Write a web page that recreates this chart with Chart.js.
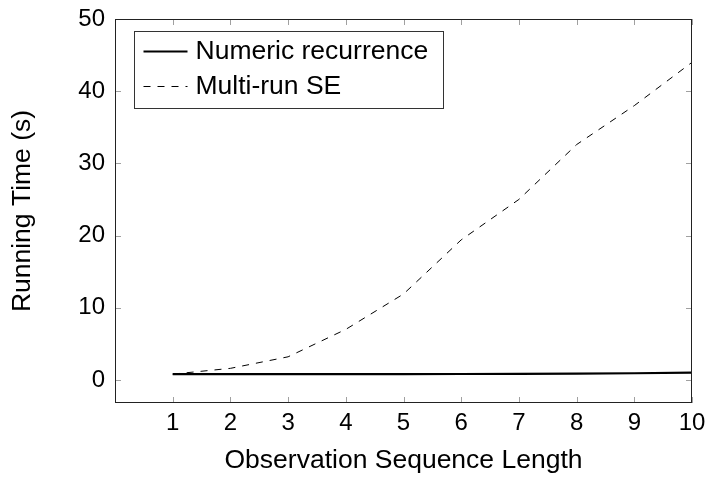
<!DOCTYPE html>
<html>
<head>
<meta charset="utf-8">
<script src="https://cdn.jsdelivr.net/npm/chart.js@4"></script>
<style>
  html, body { margin: 0; padding: 0; background: #fff; }
  #wrap { width: 709px; height: 478px; }
</style>
</head>
<body>
<div id="wrap"><canvas id="runtime"></canvas></div>
<script>
// Values
const seqLength = [1, 2, 3, 4, 5, 6, 7, 8, 9, 10];
const numericRecurrence = [0.8, 0.8, 0.8, 0.8, 0.8, 0.82, 0.84, 0.87, 0.92, 1.0];
const multiRunSE = [0.8, 1.6, 3.2, 7.0, 11.9, 19.4, 25.0, 32.6, 38.0, 44.0];
const xTicks = [1, 2, 3, 4, 5, 6, 7, 8, 9, 10];
const yTicks = [0, 10, 20, 30, 40, 50];

const FONT = 'Liberation Sans, Arial, Helvetica, sans-serif';

// frame, inward ticks and boxed legend like pgfplots
const framePlugin = {
  id: 'frame',
  afterDatasetsDraw(chart) {
    const { ctx, chartArea: a, scales } = chart;
    ctx.save();
    ctx.strokeStyle = '#a0a0a0';
    ctx.lineWidth = 1;
    const len = 6;
    ctx.beginPath();
    xTicks.forEach(v => {
      const px = Math.round(scales.x.getPixelForValue(v)) + 0.5;
      ctx.moveTo(px, a.bottom); ctx.lineTo(px, a.bottom - len);
      ctx.moveTo(px, a.top); ctx.lineTo(px, a.top + len);
    });
    yTicks.forEach(v => {
      const py = Math.round(scales.y.getPixelForValue(v)) + 0.5;
      ctx.moveTo(a.left, py); ctx.lineTo(a.left + len, py);
      ctx.moveTo(a.right, py); ctx.lineTo(a.right - len, py);
    });
    ctx.stroke();

    ctx.strokeStyle = '#222';
    ctx.strokeRect(Math.round(a.left) + 0.5, Math.round(a.top) + 0.5,
      Math.round(a.right - a.left) - 1, Math.round(a.bottom - a.top) - 1);

    // legend box
    const bx = a.left + 19.5, by = a.top + 12.5, bw = 309, bh = 77;
    ctx.fillStyle = '#fff';
    ctx.fillRect(bx, by, bw, bh);
    ctx.strokeStyle = '#333';
    ctx.strokeRect(bx, by, bw, bh);
    ctx.font = '26.5px ' + FONT;
    ctx.fillStyle = '#000';
    ctx.textBaseline = 'middle';
    chart.data.datasets.forEach((ds, i) => {
      const y = by + 20 + i * 35;
      ctx.beginPath();
      ctx.strokeStyle = '#000';
      ctx.lineWidth = ds.borderWidth;
      ctx.setLineDash(ds.borderDash || []);
      ctx.moveTo(bx + 9, y); ctx.lineTo(bx + 53, y);
      ctx.stroke();
      ctx.setLineDash([]);
      ctx.fillText(ds.label, bx + 61, y);
    });
    ctx.restore();
  }
};

new Chart(document.getElementById('runtime'), {
  type: 'line',
  data: {
    labels: seqLength,
    datasets: [
      {
        label: 'Numeric recurrence',
        data: seqLength.map((x, i) => ({ x, y: numericRecurrence[i] })),
        borderColor: '#000',
        borderWidth: 2.2,
        pointRadius: 0,
        tension: 0
      },
      {
        label: 'Multi-run SE',
        data: seqLength.map((x, i) => ({ x, y: multiRunSE[i] })),
        borderColor: '#000',
        borderWidth: 1,
        borderDash: [7, 7],
        pointRadius: 0,
        tension: 0
      }
    ]
  },
  options: {
    responsive: true,
    maintainAspectRatio: false,
    animation: false,
    layout: { padding: { top: 19, right: 17, left: 0, bottom: 0 } },
    plugins: { legend: { display: false }, tooltip: { enabled: false } },
    scales: {
      x: {
        type: 'linear',
        min: 0,
        max: 10,
        afterBuildTicks: s => { s.ticks = xTicks.map(v => ({ value: v })); },
        afterFit: s => { s.height = 75; s.paddingLeft = 0; s.paddingRight = 0; },
        grid: { display: false, drawTicks: false },
        border: { display: false },
        ticks: { color: '#000', font: { family: FONT, size: 24 }, padding: 6, maxRotation: 0 },
        title: {
          display: true,
          text: 'Observation Sequence Length',
          color: '#000',
          font: { family: FONT, size: 26.5 },
          padding: { top: 0, bottom: 1 }
        }
      },
      y: {
        min: -3.2,
        max: 50,
        afterBuildTicks: s => { s.ticks = yTicks.map(v => ({ value: v })); },
        afterFit: s => { s.width = 115; s.paddingTop = 0; s.paddingBottom = 0; },
        grid: { display: false, drawTicks: false },
        border: { display: false },
        ticks: { color: '#000', font: { family: FONT, size: 24 }, padding: 10 },
        title: {
          display: true,
          text: 'Running Time (s)',
          color: '#000',
          font: { family: FONT, size: 26.5 },
          padding: { top: 7, bottom: 0 }
        }
      }
    }
  },
  plugins: [framePlugin]
});
</script>
</body>
</html>
